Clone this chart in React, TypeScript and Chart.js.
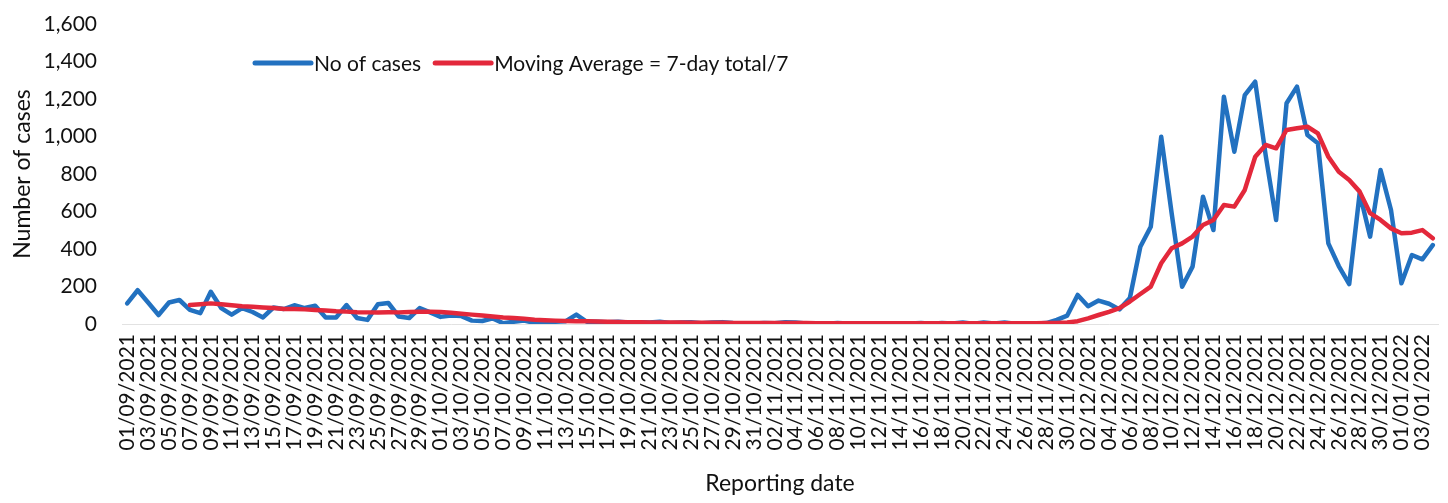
import React, { useEffect, useRef } from "react";
import { Chart, registerables } from "chart.js";

Chart.register(...registerables);

// Categories: daily reporting dates 01/09/2021 .. 04/01/2022
const MONTHS: [string, string, number][] = [
  ["09", "2021", 30],
  ["10", "2021", 31],
  ["11", "2021", 30],
  ["12", "2021", 31],
  ["01", "2022", 4],
];
const dates: string[] = [];
for (const [m, y, n] of MONTHS) {
  for (let d = 1; d <= n; d++) dates.push(`${String(d).padStart(2, "0")}/${m}/${y}`);
}

const yTicks = [0, 200, 400, 600, 800, 1000, 1200, 1400, 1600];

// Daily number of cases
const cases: number[] = [
  110, 180, 115, 48, 115, 128, 75, 58, 172, 85,
  50, 85, 64, 35, 88, 80, 100, 85, 97, 35,
  35, 101, 32, 22, 105, 112, 40, 32, 85, 62,
  38, 45, 42, 18, 16, 30, 4, 12, 18, 6,
  8, 12, 15, 50, 12, 12, 10, 12, 8, 10,
  8, 12, 6, 8, 10, 4, 8, 10, 5, 4,
  3, 6, 4, 10, 8, 3, 4, 2, 5, 3,
  4, 2, 3, 2, 4, 3, 6, 2, 5, 3,
  8, 2, 8, 3, 8, 2, 4, 3, 5, 22,
  45, 155, 95, 125, 108, 78, 139, 412, 519, 999,
  590, 199, 306, 679, 501, 1212, 919, 1221, 1292, 900,
  555, 1177, 1266, 1008, 964, 430, 309, 213, 697, 466,
  821, 608, 217, 368, 345, 421,
];

// Moving average = 7-day total / 7
const movingAvg: (number | null)[] = [
  null, null, null, null, null, null, 101, 105, 110, 105,
  100, 95, 92, 88, 85, 80, 80, 78, 75, 72,
  68, 66, 63, 62, 62, 63, 62, 64, 65, 66,
  64, 60, 55, 50, 45, 40, 35, 32, 28, 23,
  20, 18, 16, 15, 15, 13, 12, 11, 10, 9,
  8, 8, 8, 8, 7, 7, 7, 7, 6, 6,
  5, 5, 5, 5, 5, 5, 4, 4, 4, 4,
  4, 4, 4, 4, 4, 4, 4, 4, 4, 4,
  4, 4, 4, 4, 4, 4, 4, 4, 5, 6,
  8, 15, 30, 48, 65, 85, 120, 160, 199, 324,
  404, 430, 466, 528, 555, 635, 626, 715, 892, 955,
  937, 1035, 1044, 1052, 1017, 892, 812, 768, 706, 591,
  555, 510, 484, 487, 501, 457,
];

const BLUE = "#2271c0";
const RED = "#e3283b";
const FONT = "Lato";

const legendPlugin = {
  id: "insideLegend",
  afterDraw(chart: any) {
    const ctx = chart.ctx;
    const items = [
      { label: chart.data.datasets[0].label, color: chart.data.datasets[0].borderColor },
      { label: chart.data.datasets[1].label, color: chart.data.datasets[1].borderColor },
    ];
    ctx.save();
    ctx.font = `21px ${FONT}`;
    ctx.textBaseline = "middle";
    ctx.fillStyle = "#111";
    let x = 255;
    const y = 63;
    for (const it of items) {
      ctx.strokeStyle = it.color;
      ctx.lineWidth = 5;
      ctx.lineCap = "round";
      ctx.beginPath();
      ctx.moveTo(x, y);
      ctx.lineTo(x + 56, y);
      ctx.stroke();
      x += 59;
      ctx.fillText(it.label, x, y + 1);
      x += ctx.measureText(it.label).width + 14;
    }
    ctx.restore();
  },
};

export default function App() {
  const ref = useRef<HTMLCanvasElement | null>(null);
  useEffect(() => {
    if (!ref.current) return;
    const chart = new Chart(ref.current, {
      type: "line",
      data: {
        labels: dates,
        datasets: [
          {
            label: "No of cases",
            data: cases,
            borderColor: BLUE,
            backgroundColor: BLUE,
            borderWidth: 4.5,
            pointRadius: 0,
            tension: 0,
            borderJoinStyle: "round",
            borderCapStyle: "round",
            order: 2,
          },
          {
            label: "Moving Average = 7-day total/7",
            data: movingAvg,
            borderColor: RED,
            backgroundColor: RED,
            borderWidth: 4.5,
            pointRadius: 0,
            tension: 0,
            borderJoinStyle: "round",
            borderCapStyle: "round",
            order: 1,
          },
        ],
      },
      options: {
        animation: false,
        responsive: false,
        maintainAspectRatio: false,
        layout: { padding: { top: 24, right: 10, left: 0, bottom: 0 } },
        plugins: {
          legend: { display: false },
          tooltip: { enabled: false },
        },
        scales: {
          x: {
            type: "category",
            offset: true,
            grid: { display: false, drawTicks: false },
            border: { display: true, color: "#e2e2e2", width: 1 },
            ticks: {
              autoSkip: false,
              minRotation: 90,
              maxRotation: 90,
              padding: 10,
              color: "#111",
              font: { family: FONT, size: 21 },
              callback: (_v: any, i: number) => (i % 2 === 0 ? dates[i] : ""),
            },
            title: {
              display: true,
              text: "Reporting date",
              color: "#111",
              font: { family: FONT, size: 23 },
              padding: { top: 0, bottom: 6 },
            },
            afterFit: (s: any) => {
              s.height = 179;
              s.paddingLeft = 0;
              s.paddingRight = 0;
            },
          },
          y: {
            min: 0,
            max: 1600,
            afterBuildTicks: (s: any) => {
              s.ticks = yTicks.map((v) => ({ value: v }));
            },
            grid: { display: false, drawTicks: false },
            border: { display: false },
            ticks: {
              padding: 25,
              color: "#111",
              font: { family: FONT, size: 21 },
              callback: (v: any) => Number(v).toLocaleString("en-US"),
            },
            title: {
              display: true,
              text: "Number of cases",
              color: "#111",
              font: { family: FONT, size: 23 },
              padding: { top: 9, bottom: 0 },
            },
            afterFit: (s: any) => {
              s.width = 122;
              s.paddingTop = 0;
              s.paddingBottom = 0;
            },
          },
        },
      },
      plugins: [legendPlugin],
    });
    return () => chart.destroy();
  }, []);
  return (
    <div style={{ position: "absolute", left: 0, top: 0, width: 1448, height: 503, background: "#fff" }}>
      <canvas ref={ref} width={1448} height={503} style={{ display: "block" }} />
    </div>
  );
}
